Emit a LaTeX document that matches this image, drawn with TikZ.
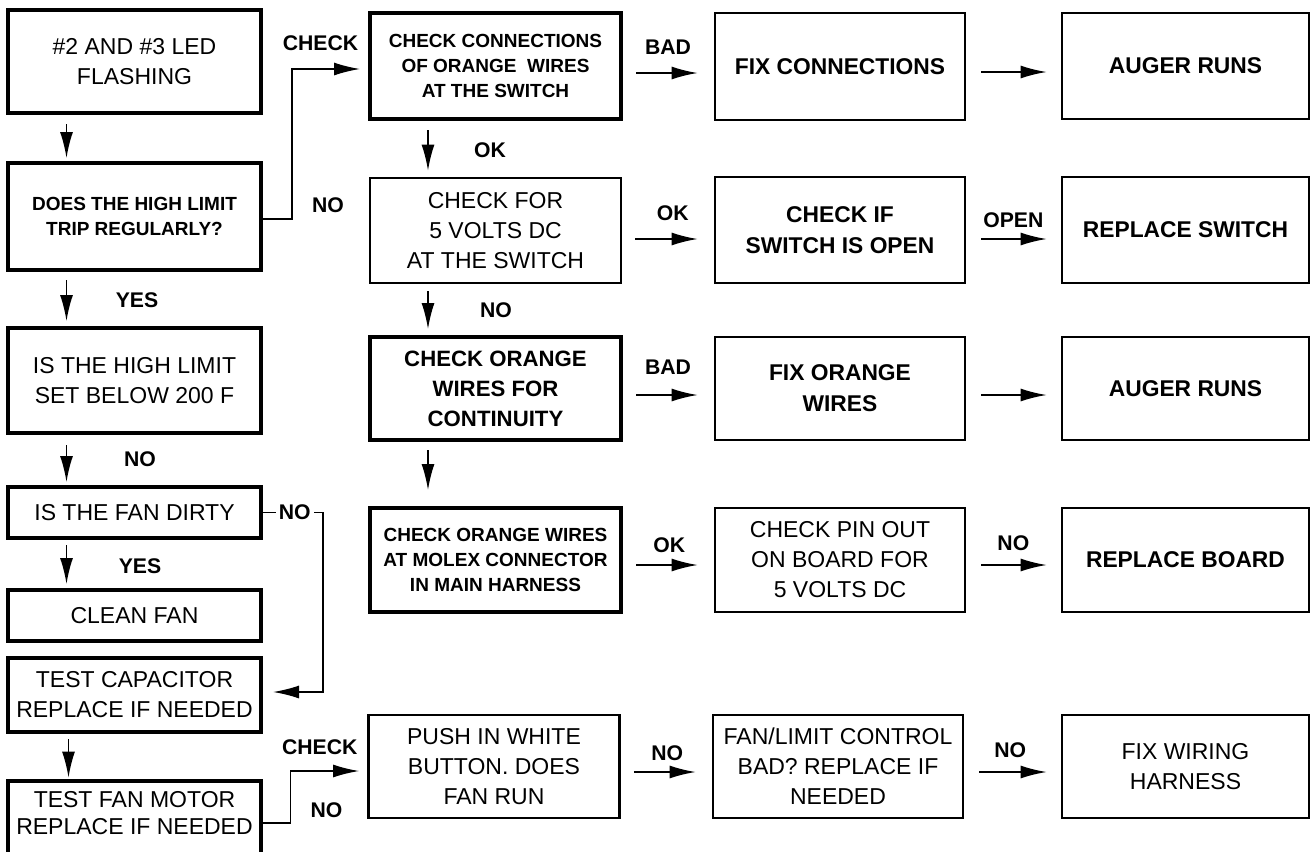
\documentclass[tikz,border=0pt]{standalone}
\usepackage{fontspec}
\setmainfont{Liberation Sans}
\usetikzlibrary{arrows.meta,calc}
\tikzset{
  frameA/.style={draw, line width=2pt, inner sep=0pt, align=center},
  frameB/.style={draw, line width=1.4pt, inner sep=0pt, align=center},
  wL/.style={minimum width=126.5pt},
  wM/.style={minimum width=125.5pt},
  wR/.style={minimum width=125pt},
  wF/.style={minimum width=123.5pt},
  rgt/.style={font=\fontsize{11.5}{15}\selectfont},
  cdt/.style={font=\bfseries\fontsize{9.5}{12.5}\selectfont},
  blt/.style={font=\bfseries\fontsize{11.4}{15.5}\selectfont},
  mdt/.style={font=\bfseries\fontsize{11.1}{15}\selectfont},
  lab/.style={font=\bfseries\fontsize{10.6}{12}\selectfont, inner sep=0pt},
  arr/.style={line width=0.85pt, -{Latex[length=13pt,width=6.5pt]}},
}
\begin{document}
\begin{tikzpicture}[x=0.5pt,y=-0.5pt]
\useasboundingbox (0,0) rectangle (1314,852);
\clip (0,0) rectangle (1314,852);
\fill[white] (0,0) rectangle (1314,852);

% left column
\node[frameA, wL, minimum height=51.5pt, rgt] (l1) at (134.5,61.5) {\#2 AND \#3 LED\\FLASHING};
\node[frameA, wL, minimum height=53.5pt, cdt] (l2) at (134.5,216.5) {DOES THE HIGH LIMIT\\TRIP REGULARLY?};
\node[frameA, wL, minimum height=52.5pt, rgt] (l3) at (134.5,380.5) {IS THE HIGH LIMIT\\SET BELOW 200 F};
\node[frameA, wL, minimum height=25.5pt, rgt] (l4) at (134.5,512.5) {IS THE FAN DIRTY};
\node[frameA, wL, minimum height=25.5pt, rgt] (l5) at (134.5,615.5) {CLEAN FAN};
\node[frameA, wL, minimum height=37pt, rgt] (l6) at (134.5,695) {TEST CAPACITOR\\REPLACE IF NEEDED};
\node[inner sep=0pt, align=center, wL, minimum height=32.5pt, font=\fontsize{11.5}{13.5}\selectfont] (l7) at (134.5,813.5) {TEST FAN MOTOR\\REPLACE IF NEEDED};
\draw[line width=2pt] ([yshift=-15pt]l7.south west) -- (l7.north west) -- (l7.north east) -- ([yshift=-15pt]l7.south east);

% middle column
\node[frameA, wM, minimum height=53pt, cdt] (m1) at (495.5,66) {CHECK CONNECTIONS\\OF ORANGE\ \ WIRES\\AT THE SWITCH};
\node[frameB, wM, minimum height=52.5pt, rgt] (m2) at (495.5,230.5) {CHECK FOR\\5 VOLTS DC\\AT THE SWITCH};
\node[frameA, wM, minimum height=51.5pt, mdt] (m3) at (495.5,388.5) {CHECK ORANGE\\WIRES FOR\\CONTINUITY};
\node[frameA, wM, minimum height=52pt, cdt] (m4) at (495.5,560) {CHECK ORANGE WIRES\\AT MOLEX CONNECTOR\\IN MAIN HARNESS};
\node[frameB, wM, minimum height=51.5pt, rgt] (m5) at (494,766.5) {PUSH IN WHITE\\BUTTON. DOES\\FAN RUN};

% third column
\node[frameB, wR, minimum height=53.5pt, blt] (r1) at (840,66.5) {FIX CONNECTIONS};
\node[frameB, wR, minimum height=53pt, blt] (r2) at (840,230) {CHECK IF\\SWITCH IS OPEN};
\node[frameB, wR, minimum height=51.5pt, blt] (r3) at (840,388.5) {FIX ORANGE\\WIRES};
\node[frameB, wR, minimum height=52pt, rgt] (r4) at (840,560) {CHECK PIN OUT\\ON BOARD FOR\\5 VOLTS DC};
\node[frameB, wR, minimum height=51.5pt, rgt] (r5) at (838,766.5) {FAN/LIMIT CONTROL\\BAD? REPLACE IF\\NEEDED};

% fourth column
\node[frameB, wF, minimum height=53pt, blt] (f1) at (1185.5,66) {AUGER RUNS};
\node[frameB, wF, minimum height=53pt, blt] (f2) at (1185.5,230) {REPLACE SWITCH};
\node[frameB, wF, minimum height=51.5pt, blt] (f3) at (1185.5,388.5) {AUGER RUNS};
\node[frameB, wF, minimum height=52pt, blt] (f4) at (1185.5,560) {REPLACE BOARD};
\node[frameB, wF, minimum height=51.5pt, rgt] (f5) at (1185.5,766.5) {FIX WIRING\\HARNESS};

% vertical arrows, left column
\draw[arr] ([xshift=-34pt,yshift=-4.5pt]l1.south) -- ([xshift=-34pt,yshift=1.5pt]l2.north);
\draw[arr] ([xshift=-34pt,yshift=-4pt]l2.south) -- ([xshift=-34pt,yshift=2.5pt]l3.north)
  node[lab, pos=0.5, xshift=35.25pt] {YES};
\draw[arr] ([xshift=-34pt,yshift=-5pt]l3.south) -- ([xshift=-34pt,yshift=1.5pt]l4.north)
  node[lab, pos=0.5, xshift=36.75pt, yshift=2.25pt] {NO};
\draw[arr] ([xshift=-34pt,yshift=-2.5pt]l4.south) -- ([xshift=-34pt,yshift=2pt]l5.north)
  node[lab, pos=0.5, xshift=36.75pt, yshift=-0.75pt] {YES};
\draw[arr] ([xshift=-33pt,yshift=-2.5pt]l6.south) -- ([xshift=-33pt,yshift=1.5pt]l7.north);

% vertical arrows, middle column
\draw[arr] ([xshift=-33.75pt,yshift=-4.5pt]m1.south) -- ([xshift=-33.75pt,yshift=3pt]m2.north)
  node[lab, pos=0.5, xshift=31pt] {OK};
\draw[arr] ([xshift=-33.75pt,yshift=-3.5pt]m2.south) -- ([xshift=-33.75pt,yshift=3pt]m3.north)
  node[lab, pos=0.5, xshift=34pt] {NO};
\draw[arr] ([xshift=-33.75pt,yshift=-4pt]m3.south) -- ([xshift=-33.75pt,yshift=8pt]m4.north);

% elbow connectors
\draw[arr] ([yshift=-1.25pt]l2.east) -- ++(14.5pt,0)
  node[lab, anchor=base, xshift=18pt, yshift=3.2pt] {NO}
  |- ([xshift=-4pt,yshift=-1.5pt]m1.west)
  node[lab, pos=0.71, anchor=base, yshift=9.2pt] {CHECK};
\draw[arr] ([yshift=-4.75pt]l7.east) -- ++(14.5pt,0)
  node[lab, anchor=base, xshift=18pt, yshift=2.7pt] {NO}
  |- ([xshift=-4pt,yshift=-2.25pt]m5.west)
  node[lab, pos=0.714, anchor=base, yshift=8.2pt] {CHECK};
\draw[arr] (l4.east) -- ++(30pt,0)
  node[lab, pos=0.53, fill=white, inner xsep=1.5pt, inner ysep=1pt] {NO}
  |- ([xshift=5pt,yshift=1.5pt]l6.east);

% horizontal arrows middle -> third column
\draw[arr] ($(m1.east)+(6.5pt,-3.5pt)$) -- ($(m1.east -| r1.west)+(-8pt,-3.5pt)$)
  node[lab, pos=0.52, anchor=base, yshift=9.2pt] {BAD};
\draw[arr] ($(m2.east)+(6.5pt,-4.25pt)$) -- ($(m2.east -| r2.west)+(-8pt,-4.25pt)$)
  node[lab, pos=0.6, anchor=base, yshift=9.2pt] {OK};
\draw[arr] ($(m3.east)+(6.5pt,-3.25pt)$) -- ($(m3.east -| r3.west)+(-8pt,-3.25pt)$)
  node[lab, pos=0.52, anchor=base, yshift=10.2pt] {BAD};
\draw[arr] ($(m4.east)+(6.5pt,-2.5pt)$) -- ($(m4.east -| r4.west)+(-8pt,-2.5pt)$)
  node[lab, pos=0.54, anchor=base, yshift=6.2pt] {OK};
\draw[arr] ($(m5.east)+(6.5pt,-2.75pt)$) -- ($(m5.east -| r5.west)+(-8pt,-2.75pt)$)
  node[lab, pos=0.54, anchor=base, yshift=5.7pt] {NO};

% horizontal arrows third -> fourth column
\draw[arr] ($(r1.east)+(7.5pt,-2.75pt)$) -- ($(r1.east -| f1.west)+(-7pt,-2.75pt)$);
\draw[arr] ($(r2.east)+(7.5pt,-4.5pt)$) -- ($(r2.east -| f2.west)+(-7pt,-4.5pt)$)
  node[lab, pos=0.49, anchor=base, yshift=5.7pt] {OPEN};
\draw[arr] ($(r3.east)+(7.5pt,-3.25pt)$) -- ($(r3.east -| f3.west)+(-7pt,-3.25pt)$);
\draw[arr] ($(r4.east)+(7.5pt,-2.5pt)$) -- ($(r4.east -| f4.west)+(-7pt,-2.5pt)$)
  node[lab, pos=0.49, anchor=base, yshift=7.2pt] {NO};
\draw[arr] ($(r5.east)+(7.5pt,-2.75pt)$) -- ($(r5.east -| f5.west)+(-7pt,-2.75pt)$)
  node[lab, pos=0.46, anchor=base, yshift=7.2pt] {NO};
\end{tikzpicture}
\end{document}
